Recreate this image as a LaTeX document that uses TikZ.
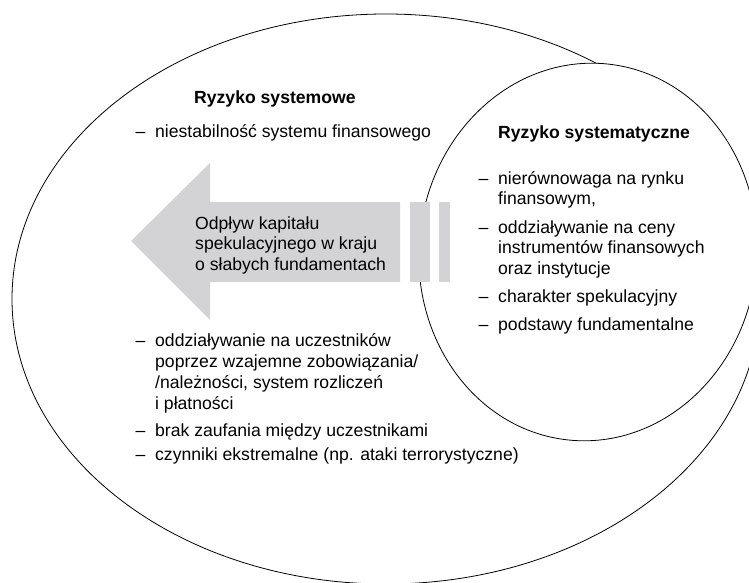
\documentclass[tikz,border=0pt]{standalone}
\usepackage{fontspec}
\setmainfont{Liberation Sans}
\definecolor{arrowgray}{RGB}{211,211,213}
\newcommand{\ldash}{\llap{--\hspace{0.55em}}}
\tikzset{
  listtext/.style={anchor=north west, inner sep=0pt, align=left, font=\fontsize{17.6}{20.5}\selectfont},
  headtext/.style={anchor=base west, inner sep=0pt, font=\fontsize{17.6}{20.5}\selectfont\bfseries},
  rim/.style={line width=0.8pt}
}
\begin{document}
\begin{tikzpicture}[x=1pt,y=-1pt]
        \useasboundingbox (0,0) rectangle (749,583);
        \draw[rim] (386,299) ellipse [x radius=374pt, y radius=285pt];
        \draw[rim,fill=white,rotate around={-6:(588,252)}] (588,252) ellipse [x radius=169pt, y radius=189pt];
        \fill[arrowgray] (131,241) -- (210,163) -- (210,202) -- (400,202) -- (400,282) -- (210,282) -- (210,320) -- cycle;
        \fill[arrowgray] (410,202) rectangle (430,282);
        \fill[arrowgray] (439,202) rectangle (450,282);
        \node[headtext] (sysmtitle) at (194,103) {Ryzyko systemowe};
        \node[headtext,font=\fontsize{17.6}{20.5}\selectfont] (sysmtop) at (155,137) {\ldash niestabilność systemu finansowego};
        \node[listtext] (flowtext) at (195,214.65) {\strut Odpływ kapitału\\spekulacyjnego w kraju\\o słabych fundamentach};
        \node[listtext,font=\fontsize{17.6}{21}\selectfont] (sysmlist) at (155,331.3) {\strut\ldash oddziaływanie na uczestników\\poprzez wzajemne zobowiązania/\\/należności, system rozliczeń\\i płatności\\[6pt]\ldash brak zaufania między uczestnikami\\[3pt]\ldash czynniki ekstremalne (np. ataki terrorystyczne)};
        \node[headtext] (systtitle) at (498,139) {Ryzyko systematyczne};
        \node[listtext] (systlist) at (498,169.65) {\strut\ldash nierównowaga na rynku\\finansowym,\\[8pt]\ldash oddziaływanie na ceny\\instrumentów finansowych\\oraz instytucje\\[7.5pt]\ldash charakter spekulacyjny\\[7.5pt]\ldash podstawy fundamentalne};
\end{tikzpicture}
\end{document}
